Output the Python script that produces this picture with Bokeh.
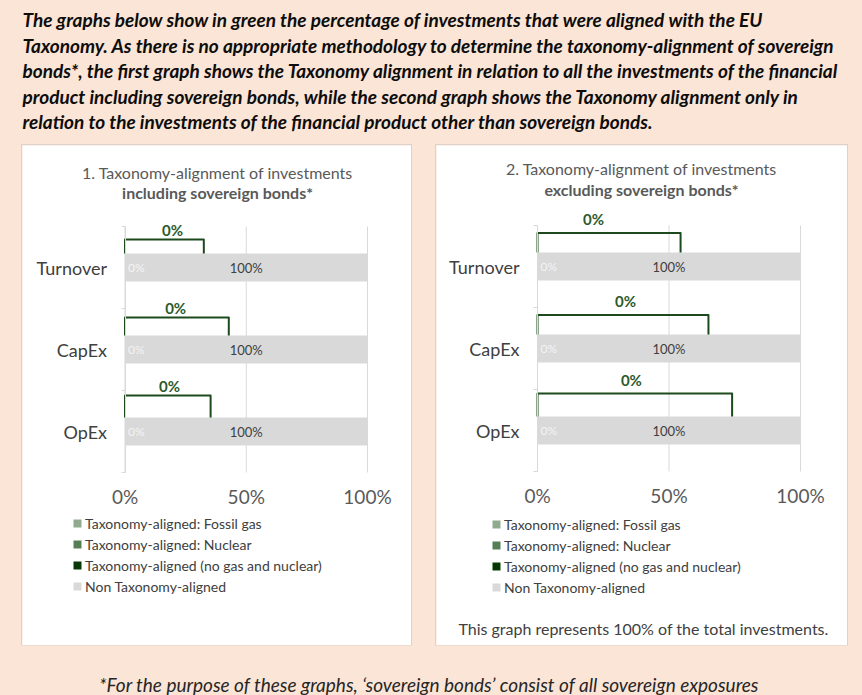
from bokeh.plotting import figure
from bokeh.models import (Range1d, FixedTicker, LabelSet, Label, Legend, LegendItem,
                          ColumnDataSource, Spacer, GlobalInlineStyleSheet)
from bokeh.layouts import column, row
from bokeh.embed import file_html
from bokeh.resources import INLINE
from bokeh.core.properties import value

PEACH = "#FBE5D6"
FONT = "Lato"
GREEN_TEXT = "#2B5A2B"
GREEN_LINE = "#1D4A1D"

header_lines = [
    "The graphs below show in green the percentage of investments that were aligned with the EU",
    "Taxonomy. As there is no appropriate methodology to determine the taxonomy-alignment of sovereign",
    "bonds*, the first graph shows the Taxonomy alignment in relation to all the investments of the financial",
    "product including sovereign bonds, while the second graph shows the Taxonomy alignment only in",
    "relation to the investments of the financial product other than sovereign bonds.",
]
footnote = "*For the purpose of these graphs, \u2018sovereign bonds\u2019 consist of  all sovereign exposures"

categories = ["Turnover", "CapEx", "OpEx"]
series_names = ["Taxonomy-aligned: Fossil gas", "Taxonomy-aligned: Nuclear",
                "Taxonomy-aligned (no gas and nuclear)", "Non Taxonomy-aligned"]
series_colors = ["#8FAA8C", "#567E56", "#063806", "#D9D9D9"]

# chart 1: including sovereign bonds (percent)
incl_fossil_gas = [0, 0, 0]
incl_nuclear = [0, 0, 0]
incl_aligned = [0, 0, 0]
incl_non_aligned = [100, 100, 100]

# chart 2: excluding sovereign bonds (percent)
excl_fossil_gas = [0, 0, 0]
excl_nuclear = [0, 0, 0]
excl_aligned = [0, 0, 0]
excl_non_aligned = [100, 100, 100]

x_ticks = [0, 50, 100]
x_tick_labels = ["0%", "50%", "100%"]

chart1_title = ["1. Taxonomy-alignment of investments", "including sovereign bonds*"]
chart2_title = ["2. Taxonomy-alignment of investments", "excluding sovereign bonds*"]
chart2_note = "This graph represents 100% of the total investments."

# layout of the data-label callouts (box extents, in axis units)
incl_callout_end = [32.5, 42.8, 35.3]
incl_callout_text_x = [19.6, 20.9, 18.4]
incl_callout_rise = [0.17, 0.22, 0.27]
incl_callout_gap = 0.12
excl_callout_end = [54.4, 65.0, 74.0]
excl_callout_text_x = [21.3, 33.5, 35.7]
excl_callout_rise = [0.24, 0.24, 0.28]
excl_callout_gap = 0.17

BAR_H = 0.34


def make_panel(W, H, x0px, x100px, ybotpx, ytoppx, titles, title_x, title_y,
               values, c_end, c_tx, c_rise, c_gap, leg_x, leg_first, note=None, note_xy=None):
    n = len(categories)
    ypos = [n - 0.5 - i for i in range(n)]
    xs_per = (x100px - x0px) / 100.0
    ys_per = (ybotpx - ytoppx) / float(n)
    x_range = Range1d(-x0px / xs_per, (W - x0px) / xs_per)
    y_range = Range1d(-(H - ybotpx) / ys_per, n + ytoppx / ys_per)
    p = figure(width=W, height=H, x_range=x_range, y_range=y_range,
               output_backend="svg", toolbar_location=None, min_border=0,
               background_fill_color="white", border_fill_color="white",
               outline_line_color=None,
               styles={"box-shadow": "0 0 0 1px #DCD2CA"})
    p.xgrid.visible = False
    p.ygrid.visible = False

    # vertical gridlines at the x ticks, limited to the plotting band
    p.segment(x0=x_ticks, y0=[0] * len(x_ticks), x1=x_ticks, y1=[n] * len(x_ticks),
              line_color="#D9D9D9", line_width=1)

    left = [0] * n
    rends = []
    for nm, vals, col in zip(series_names, values, series_colors):
        right = [l + v for l, v in zip(left, vals)]
        src = ColumnDataSource(dict(y=ypos, left=left, right=right))
        r = p.hbar(y="y", left="left", right="right", height=BAR_H, source=src,
                   fill_color=col, line_color=None)
        rends.append(r)
        left = right

    # axes
    p.xaxis.fixed_location = 0
    p.xaxis.bounds = (x_ticks[0], x_ticks[-1])
    p.xaxis.ticker = FixedTicker(ticks=x_ticks)
    p.xaxis.major_label_overrides = {t: s for t, s in zip(x_ticks, x_tick_labels)}
    p.xaxis.axis_line_color = None
    p.xaxis.major_tick_line_color = None
    p.xaxis.minor_tick_line_color = None
    p.xaxis.major_tick_out = 0
    p.xaxis.major_tick_in = 0
    p.xaxis.major_label_standoff = 12
    p.xaxis.major_label_text_font = FONT
    p.xaxis.major_label_text_font_size = "19px"
    p.xaxis.major_label_text_color = "#595959"

    p.yaxis.fixed_location = 0
    p.yaxis.bounds = (0, n)
    p.yaxis.ticker = FixedTicker(ticks=ypos, minor_ticks=list(range(n + 1)))
    p.yaxis.major_label_overrides = {y: c for y, c in zip(ypos, categories)}
    p.yaxis.axis_line_color = "#D9D9D9"
    p.yaxis.major_tick_line_color = None
    p.yaxis.major_tick_out = 0
    p.yaxis.major_tick_in = 0
    p.yaxis.minor_tick_line_color = "#D9D9D9"
    p.yaxis.minor_tick_in = 0
    p.yaxis.minor_tick_out = 4
    p.yaxis.major_label_standoff = 14
    p.yaxis.major_label_text_font = FONT
    p.yaxis.major_label_text_font_size = "18px"
    p.yaxis.major_label_text_color = "#404040"

    # value labels in the grey bar
    aligned_total = [a + b + c for a, b, c in zip(values[0], values[1], values[2])]
    non = values[3]
    lab_src = ColumnDataSource(dict(
        x=[a + v / 2 for a, v in zip(aligned_total, non)], y=ypos,
        text=["%d%%" % v for v in non]))
    p.add_layout(LabelSet(x="x", y="y", text="text", source=lab_src, text_align="center",
                          text_baseline="middle", text_font=value(FONT), text_font_size="13px",
                          text_color="#404040"))
    ghost_src = ColumnDataSource(dict(x=[0] * n, y=ypos, text=["%d%%" % v for v in values[0]]))
    p.add_layout(LabelSet(x="x", y="y", text="text", source=ghost_src, x_offset=3,
                          text_align="left", text_baseline="middle", text_font=value(FONT),
                          text_font_size="12px", text_color="#F4F4F4"))

    # callouts for the aligned share
    xs, ys, tx, ty = [], [], [], []
    for yc, e, rise, t in zip(ypos, c_end, c_rise, c_tx):
        base = yc + BAR_H / 2
        top = base + rise
        xs.append([0, 0, e, e])
        ys.append([base, top, top, base])
        tx.append(t)
        ty.append(top + c_gap)
    p.multi_line(xs, ys, line_color=GREEN_LINE, line_width=2, line_join="round")
    c_src = ColumnDataSource(dict(x=tx, y=ty, text=["%d%%" % v for v in aligned_total]))
    p.add_layout(LabelSet(x="x", y="y", text="text", source=c_src, text_align="center",
                          text_baseline="middle", text_font=value(FONT), text_font_size="15px",
                          text_font_style="bold", text_color=GREEN_TEXT))

    # panel titles (screen units: pixels from the panel's bottom-left)
    for i, (t, sty) in enumerate(zip(titles, ["normal", "bold"])):
        p.add_layout(Label(x=title_x, y=H - title_y[i], x_units="screen", y_units="screen",
                           text=t, text_align="center", text_baseline="middle",
                           text_font=FONT, text_font_size="16px", text_font_style=sty,
                           text_color="#595959"))
    if note:
        p.add_layout(Label(x=note_xy[0], y=H - note_xy[1], x_units="screen", y_units="screen",
                           text=note, text_align="center", text_baseline="middle",
                           text_font=FONT, text_font_size="16px", text_color="#404040"))

    item_h, spacing = 18, 3
    total = len(series_names) * item_h + (len(series_names) - 1) * spacing
    leg_top = leg_first - item_h / 2
    legend = Legend(items=[LegendItem(label=nm, renderers=[r]) for nm, r in zip(series_names, rends)],
                    location=(leg_x, H - (leg_top + total)),
                    glyph_width=10, glyph_height=10, label_standoff=3, label_height=item_h,
                    spacing=spacing, padding=0, margin=0, border_line_color=None,
                    background_fill_alpha=0, label_text_font=FONT, label_text_font_size="14px",
                    label_text_color="#404040")
    p.add_layout(legend)
    return p


left_panel = make_panel(389, 500, 102.5, 345, 327, 81, chart1_title, 195, [27, 47],
                        [incl_fossil_gas, incl_nuclear, incl_aligned, incl_non_aligned],
                        incl_callout_end, incl_callout_text_x, incl_callout_rise, incl_callout_gap,
                        50, 378)
right_panel = make_panel(411, 500, 101, 364, 326, 80, chart2_title, 205, [23, 44],
                         [excl_fossil_gas, excl_nuclear, excl_aligned, excl_non_aligned],
                         excl_callout_end, excl_callout_text_x, excl_callout_rise, excl_callout_gap,
                         55, 379, note=chart2_note, note_xy=(207, 483))

# header
HH = 145
hdr = figure(width=862, height=HH, x_range=Range1d(0, 862), y_range=Range1d(HH, 0),
             output_backend="svg", toolbar_location=None, min_border=0,
             x_axis_location=None, y_axis_location=None,
             background_fill_color=PEACH, border_fill_color=PEACH, outline_line_color=None)
hdr.grid.visible = False
hdr.text(x=[22] * len(header_lines), y=[19 + 25.5 * i for i in range(len(header_lines))],
         text=header_lines, text_font=value(FONT), text_font_size="19px",
         text_font_style="bold italic", text_color="#0D0D0D", text_baseline="middle")

# footer
FH = 50
ftr = figure(width=862, height=FH, x_range=Range1d(0, 862), y_range=Range1d(FH, 0),
             output_backend="svg", toolbar_location=None, min_border=0,
             x_axis_location=None, y_axis_location=None,
             background_fill_color=PEACH, border_fill_color=PEACH, outline_line_color=None)
ftr.grid.visible = False
ftr.text(x=[431], y=[39], text=[footnote], text_font=value(FONT), text_font_size="19px",
         text_font_style="italic", text_color="#262626", text_baseline="middle", text_align="center")

panels = row(Spacer(width=22, height=500), left_panel, Spacer(width=25, height=500), right_panel,
             Spacer(width=15, height=500))
root = column(hdr, panels, ftr, styles={"background-color": PEACH})
root.stylesheets = [GlobalInlineStyleSheet(css="body { background-color: #FBE5D6; }")]

open("out.html", "w").write(file_html(root, INLINE))
